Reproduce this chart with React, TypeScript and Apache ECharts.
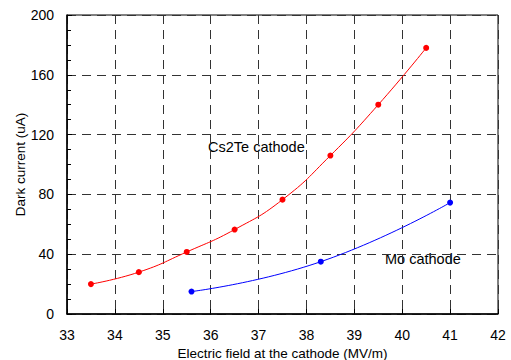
import React, { useEffect, useRef } from "react";
import * as echarts from "echarts";

const xTicks = [33, 34, 35, 36, 37, 38, 39, 40, 41, 42];
const yTicks = [0, 40, 80, 120, 160, 200];
const cs2teField = [33.5, 34.5, 35.5, 36.5, 37.5, 38.5, 39.5, 40.5];
const cs2teCurrent = [20, 28, 41.5, 56.5, 76.5, 106, 140, 178];
const moField = [35.6, 38.3, 41];
const moCurrent = [15, 35, 74.5];
const seriesNames = ["Cs2Te cathode", "Mo cathode"];

const FONT = "Liberation Sans, Arial, sans-serif";

export default function App() {
  const ref = useRef<HTMLDivElement>(null);
  useEffect(() => {
    document.body.style.margin = "0";
    if (!ref.current) return;
    const chart = echarts.init(ref.current, undefined, { renderer: "svg" });
    const gridLine = { show: true, lineStyle: { color: "#333", type: [9, 6], width: 1 } };
    chart.setOption({
      animation: false,
      grid: {
        left: 67,
        right: 13,
        top: 15,
        bottom: 46,
        outerBoundsMode: "none",
        containLabel: false,
        show: true,
        borderColor: "#000",
        borderWidth: 1,
      },
      xAxis: {
        type: "value",
        min: xTicks[0],
        max: xTicks[xTicks.length - 1],
        interval: 1,
        name: "Electric field at the cathode (MV/m)",
        nameLocation: "middle",
        nameGap: 29,
        nameTextStyle: { fontFamily: FONT, fontSize: 13.5, color: "#000" },
        axisLine: { lineStyle: { color: "#000", width: 1.5 } },
        axisTick: { inside: true, length: 5, lineStyle: { color: "#000" } },
        axisLabel: { fontFamily: FONT, fontSize: 14, color: "#000", margin: 14 },
        splitLine: gridLine,
      },
      yAxis: {
        type: "value",
        min: yTicks[0],
        max: yTicks[yTicks.length - 1],
        interval: 40,
        name: "Dark current (uA)",
        nameLocation: "middle",
        nameGap: 40,
        nameMoveOverlap: false,
        nameTextStyle: { fontFamily: FONT, fontSize: 13.5, color: "#000" },
        axisLine: { show: true, lineStyle: { color: "#000", width: 1.5 } },
        axisTick: { inside: true, length: 5, lineStyle: { color: "#000" } },
        minorTick: { show: true, splitNumber: 4, length: 4, lineStyle: { color: "#000" } },
        axisLabel: { fontFamily: FONT, fontSize: 14, color: "#000", margin: 13 },
        splitLine: gridLine,
      },
      series: [
        {
          name: seriesNames[0],
          type: "line",
          smooth: 0.5,
          data: cs2teField.map((x, i) => [x, cs2teCurrent[i]]),
          symbol: "circle",
          symbolSize: 6,
          lineStyle: { color: "#ff0000", width: 1 },
          itemStyle: { color: "#ff0000" },
        },
        {
          name: seriesNames[1],
          type: "line",
          smooth: 0.5,
          data: moField.map((x, i) => [x, moCurrent[i]]),
          symbol: "circle",
          symbolSize: 6,
          lineStyle: { color: "#0000ff", width: 1 },
          itemStyle: { color: "#0000ff" },
        },
      ],
      graphic: [
        {
          type: "text",
          left: 208,
          top: 139,
          style: { text: seriesNames[0], fontFamily: FONT, fontSize: 14.5, fill: "#000" },
        },
        {
          type: "text",
          left: 385,
          top: 251,
          style: { text: seriesNames[1], fontFamily: FONT, fontSize: 14.5, fill: "#000" },
        },
      ],
    });
    return () => chart.dispose();
  }, []);
  return <div ref={ref} style={{ width: 511, height: 360 }} />;
}
